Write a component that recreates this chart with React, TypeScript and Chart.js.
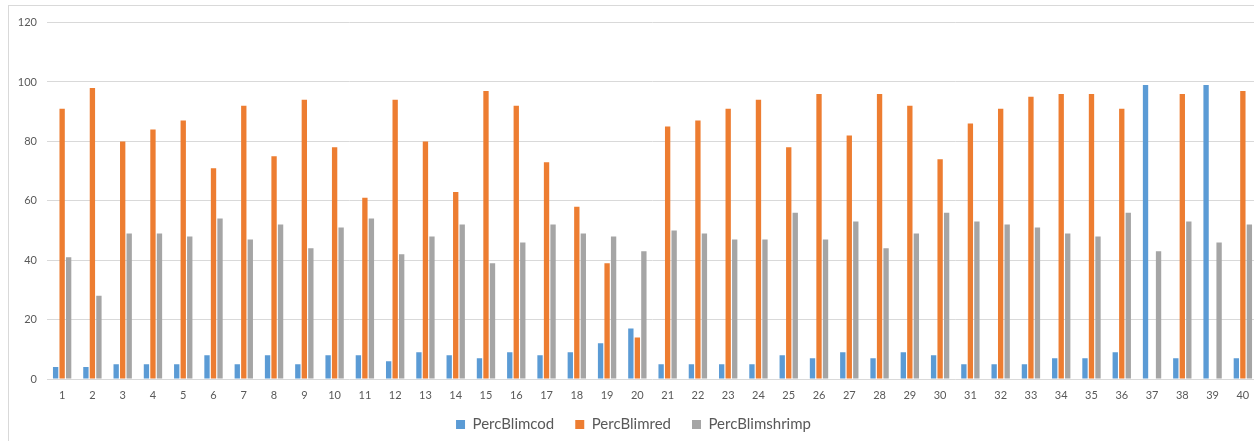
import { useEffect, useRef } from "react";
import { Chart, registerables } from "chart.js";

Chart.register(...registerables);

const categories = [
  "1", "2", "3", "4", "5", "6", "7", "8", "9", "10",
  "11", "12", "13", "14", "15", "16", "17", "18", "19", "20",
  "21", "22", "23", "24", "25", "26", "27", "28", "29", "30",
  "31", "32", "33", "34", "35", "36", "37", "38", "39", "40",
];

const percBlimcod = [
  4, 4, 5, 5, 5, 8, 5, 8, 5, 8,
  8, 6, 9, 8, 7, 9, 8, 9, 12, 17,
  5, 5, 5, 5, 8, 7, 9, 7, 9, 8,
  5, 5, 5, 7, 7, 9, 99, 7, 99, 7,
];

const percBlimred = [
  91, 98, 80, 84, 87, 71, 92, 75, 94, 78,
  61, 94, 80, 63, 97, 92, 73, 58, 39, 14,
  85, 87, 91, 94, 78, 96, 82, 96, 92, 74,
  86, 91, 95, 96, 96, 91, null, 96, null, 97,
];

const percBlimshrimp = [
  41, 28, 49, 49, 48, 54, 47, 52, 44, 51,
  54, 42, 48, 52, 39, 46, 52, 49, 48, 43,
  50, 49, 47, 47, 56, 47, 53, 44, 49, 56,
  53, 52, 51, 49, 48, 56, 43, 53, 46, 52,
];

const seriesNames = ["PercBlimcod", "PercBlimred", "PercBlimshrimp"];
const seriesColors = ["#5B9BD5", "#ED7D31", "#A5A5A5"];
const yMin = 0;
const yMax = 120;
const yStep = 20;

const FONT = "Lato, 'Open Sans', sans-serif";

// Keep the legend box compact while spacing the items widely.
const legendHeightPlugin = {
  id: "legendHeight",
  beforeLayout(chart: any) {
    const lg = chart.legend;
    if (lg && !lg._patched) {
      const origFit = lg.fit.bind(lg);
      lg.fit = function () {
        origFit();
        this.height = 34;
      };
      const origDraw = lg.draw.bind(lg);
      lg.draw = function () {
        const t = this.top;
        this.top = t - 11;
        origDraw();
        this.top = t;
      };
      lg._patched = true;
    }
  },
};

export default function App() {
  const ref = useRef<HTMLCanvasElement>(null);

  useEffect(() => {
    if (!ref.current) return;
    const values = [percBlimcod, percBlimred, percBlimshrimp];
    const chart = new Chart(ref.current, {
      type: "bar",
      data: {
        labels: categories,
        datasets: values.map((v, i) => ({
          label: seriesNames[i],
          data: v,
          backgroundColor: seriesColors[i],
          borderWidth: 0,
          categoryPercentage: 0.645,
          barPercentage: 0.82,
        })),
      },
      plugins: [legendHeightPlugin],
      options: {
        responsive: false,
        animation: false,
        layout: { padding: { top: 14, right: 20, bottom: 3, left: 0 } },
        plugins: {
          legend: {
            position: "bottom",
            labels: {
              boxWidth: 9,
              boxHeight: 9,
              padding: 21,
              color: "#595959",
              font: { family: FONT, size: 15 },
            },
          },
          tooltip: { enabled: false },
        },
        scales: {
          x: {
            grid: { display: false, drawTicks: false },
            border: { display: false },
            ticks: {
              color: "#595959",
              font: { family: FONT, size: 11 },
              padding: 10,
              maxRotation: 0,
              autoSkip: false,
            },
            afterFit: (s: any) => {
              s.height = 28;
            },
          },
          y: {
            min: yMin,
            max: yMax,
            ticks: {
              stepSize: yStep,
              color: "#595959",
              font: { family: FONT, size: 11 },
              padding: 10,
            },
            grid: { color: "#D9D9D9", lineWidth: 1, drawTicks: false },
            border: { display: false },
            afterFit: (s: any) => {
              s.width = 38;
            },
          },
        },
      },
    });
    return () => chart.destroy();
  }, []);

  return (
    <div
      style={{
        position: "fixed",
        left: 0,
        top: 0,
        width: 1254,
        height: 441,
        overflow: "hidden",
        background: "#fff",
      }}
    >
      <div
        style={{
          position: "absolute",
          left: 8,
          top: 5,
          width: 1271,
          height: 440,
          border: "1px solid #D9D9D9",
          boxSizing: "border-box",
        }}
      >
        <canvas
          ref={ref}
          width={1269}
          height={438}
          style={{ display: "block", width: 1269, height: 438 }}
        />
      </div>
    </div>
  );
}
